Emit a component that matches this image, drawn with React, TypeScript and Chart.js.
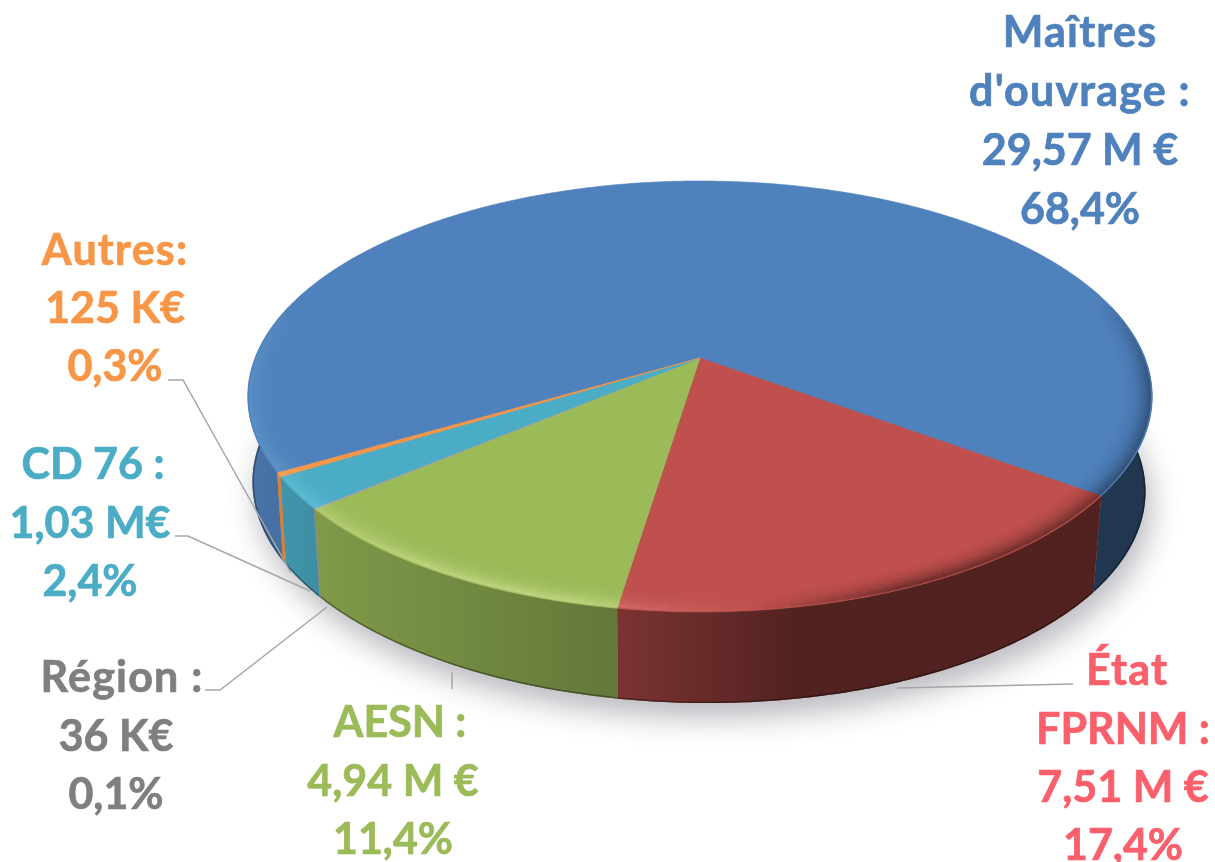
import React, { useEffect, useRef } from "react";
import { Chart, registerables } from "chart.js";

Chart.register(...registerables);

const categories = ["Maîtres d'ouvrage", "État FPRNM", "AESN", "Région", "CD 76", "Autres"];
const amounts = [29.57, 7.51, 4.94, 0.036, 1.03, 0.125];
const sliceColors = ["#4f81bd", "#c0504d", "#9bbb59", "#a5a5a5", "#4bacc6", "#f79646"];

const labelLines = [
  ["Maîtres", "d'ouvrage :", "29,57 M €", "68,4%"],
  ["État", "FPRNM :", "7,51 M €", "17,4%"],
  ["AESN :", "4,94 M €", "11,4%"],
  ["Région :", "36 K€", "0,1%"],
  ["CD 76 :", "1,03 M€", "2,4%"],
  ["Autres:", "125 K€", "0,3%"],
];
const labelColors = ["#4f81bd", "#fa606b", "#9bbb59", "#7f7f7f", "#4bacc6", "#f79646"];

// layout: [centre x, baseline y] per label line
const labelAnchors: number[][][] = [
  [[1080, 47], [1080, 106], [1080, 165], [1080, 224]],
  [[1127, 685], [1123, 744], [1123, 802], [1123, 860]],
  [[400, 737], [393, 796], [393, 854]],
  [[122, 692], [116, 751], [116, 809]],
  [[93, 479], [90, 538], [90, 596]],
  [[115, 265], [115, 323], [115, 381]],
];
const leaderLines: number[][][] = [
  [[897, 688], [1073, 684]],
  [[452, 672], [452, 689]],
  [[205, 690], [220, 690], [327, 607]],
  [[175, 536], [188, 536], [310, 591]],
  [[168, 380], [183, 380], [291, 573]],
];

const ROTATION = -120.1;
const TOP = { cx: 700, cy: 358, R: 445, b: 208.6, a: 0.1786, s: 0 };
const BOT = { cx: 699, cy: 450, R: 440, b: 210, a: 0.17, s: 5 };
type Disc = typeof TOP;
const DEG = Math.PI / 180;

const proj = (d: Disc, t: number, r = 1) => {
  const u = r * Math.cos(t);
  const v = r * Math.sin(t);
  const w = 1 - d.a * v;
  return [d.cx + (d.R * u) / w, d.cy + (d.b * v) / w + d.s * u];
};

const arcPts = (d: Disc, a0: number, a1: number, r = 1) => {
  const n = Math.max(2, Math.ceil(Math.abs(a1 - a0) / 0.01));
  const pts: number[][] = [];
  for (let i = 0; i <= n; i++) pts.push(proj(d, a0 + ((a1 - a0) * i) / n, r));
  return pts;
};

const trace = (ctx: CanvasRenderingContext2D, pts: number[][]) => {
  ctx.beginPath();
  pts.forEach((p, i) => (i ? ctx.lineTo(p[0], p[1]) : ctx.moveTo(p[0], p[1])));
};

const clamp = (x: number, a = 0, b = 1) => Math.min(b, Math.max(a, x));

const pie3d = {
  id: "pie3d",
  beforeDatasetsDraw(chart: any) {
    const ctx: CanvasRenderingContext2D = chart.ctx;
    const arcs = chart.getDatasetMeta(0).data;
    ctx.save();

    // cast shadow
    ctx.save();
    ctx.shadowColor = "rgba(20,20,40,0.3)";
    ctx.shadowBlur = 30;
    ctx.shadowOffsetX = 5;
    ctx.shadowOffsetY = 14;
    trace(ctx, arcPts(BOT, 0, Math.PI * 2));
    ctx.closePath();
    ctx.fillStyle = "#888";
    ctx.fill();
    ctx.restore();

    // walls: only the part of each slice that faces the viewer
    const shade = ctx.createLinearGradient(250, 0, 1150, 0);
    const stops: [number, number][] = [
      [250, 0.1], [320, 0.18], [620, 0.36], [800, 0.58], [1150, 0.58],
    ];
    stops.forEach(([x, a]) => shade.addColorStop((x - 250) / 900, `rgba(0,0,0,${a})`));
    arcs.forEach((arc: any, i: number) => {
      for (let k = -1; k <= 1; k++) {
        const a0 = Math.max(arc.startAngle, (-15 + 360 * k) * DEG);
        const a1 = Math.min(arc.endAngle, (195 + 360 * k) * DEG);
        if (a1 <= a0) continue;
        const bottom = arcPts(BOT, a0, a1);
        const pts = [...arcPts(TOP, a0, a1), ...bottom.slice().reverse()];
        trace(ctx, pts);
        ctx.closePath();
        ctx.fillStyle = sliceColors[i];
        ctx.fill();
        ctx.fillStyle = shade;
        ctx.fill();
        ctx.save();
        trace(ctx, pts);
        ctx.closePath();
        ctx.clip();
        trace(ctx, bottom);
        ctx.strokeStyle = "rgba(0,0,0,0.35)";
        ctx.lineWidth = 3;
        ctx.stroke();
        ctx.restore();
      }
    });

    // top face
    arcs.forEach((arc: any, i: number) => {
      const pts = [[TOP.cx, TOP.cy], ...arcPts(TOP, arc.startAngle, arc.endAngle)];
      trace(ctx, pts);
      ctx.closePath();
      ctx.fillStyle = sliceColors[i];
      ctx.fill();
      ctx.strokeStyle = sliceColors[i];
      ctx.lineWidth = 0.6;
      ctx.stroke();
    });

    // bevel on the rim of the top face
    const step = Math.PI / 120;
    const inner = 0.915;
    ctx.lineCap = "butt";
    for (let r = inner; r < 1; r += 0.005) {
      const prof = Math.pow((r - inner) / (1 - inner), 3);
      for (let t = -0.8; t < Math.PI + 0.8; t += step) {
        const m = t + step / 2;
        const u = Math.cos(m);
        const v = Math.sin(m);
        const far = clamp((v + 0.3) / 0.4);
        const light = clamp((0.1 - u) / 0.35) * (0.12 + 0.2 * clamp((u + 0.95) / 0.4));
        const dark = 0.4 * clamp((u - 0.1) / 0.3);
        const a = prof * far * (light > 0 ? light : dark);
        if (a < 0.004) continue;
        ctx.globalCompositeOperation = light > 0 ? "overlay" : "source-over";
        ctx.strokeStyle = light > 0 ? `rgba(255,255,255,${a})` : `rgba(0,0,0,${a})`;
        ctx.lineWidth = 2.4;
        trace(ctx, [proj(TOP, t, r), proj(TOP, t + step * 1.02, r)]);
        ctx.stroke();
      }
    }
    ctx.globalCompositeOperation = "source-over";
    ctx.restore();
    return false;
  },
  afterDraw(chart: any) {
    const ctx: CanvasRenderingContext2D = chart.ctx;
    ctx.save();
    ctx.strokeStyle = "#a6a6a6";
    ctx.lineWidth = 1.5;
    leaderLines.forEach((l) => {
      trace(ctx, l);
      ctx.stroke();
    });
    ctx.font = "bold 43px Lato, 'Open Sans', sans-serif";
    ctx.textAlign = "center";
    ctx.textBaseline = "alphabetic";
    labelLines.forEach((lines, i) => {
      ctx.fillStyle = labelColors[i];
      lines.forEach((s, j) => {
        (ctx as any).letterSpacing = /[a-zî]/.test(s) ? "1.2px" : "0px";
        ctx.strokeStyle = labelColors[i];
        ctx.lineWidth = 0.7;
        ctx.fillText(s, labelAnchors[i][j][0], labelAnchors[i][j][1]);
        ctx.strokeText(s, labelAnchors[i][j][0], labelAnchors[i][j][1]);
      });
    });
    ctx.restore();
  },
};

export default function App() {
  const ref = useRef<HTMLCanvasElement>(null);
  useEffect(() => {
    document.body.style.margin = "0";
    const chart = new Chart(ref.current!, {
      type: "pie",
      data: {
        labels: categories,
        datasets: [{ data: amounts, backgroundColor: sliceColors, borderWidth: 0 }],
      },
      options: {
        animation: false,
        responsive: false,
        rotation: ROTATION,
        plugins: { legend: { display: false }, tooltip: { enabled: false } },
      },
      plugins: [pie3d],
    } as any);
    return () => chart.destroy();
  }, []);
  return <canvas ref={ref} width={1215} height={862} style={{ display: "block" }} />;
}
